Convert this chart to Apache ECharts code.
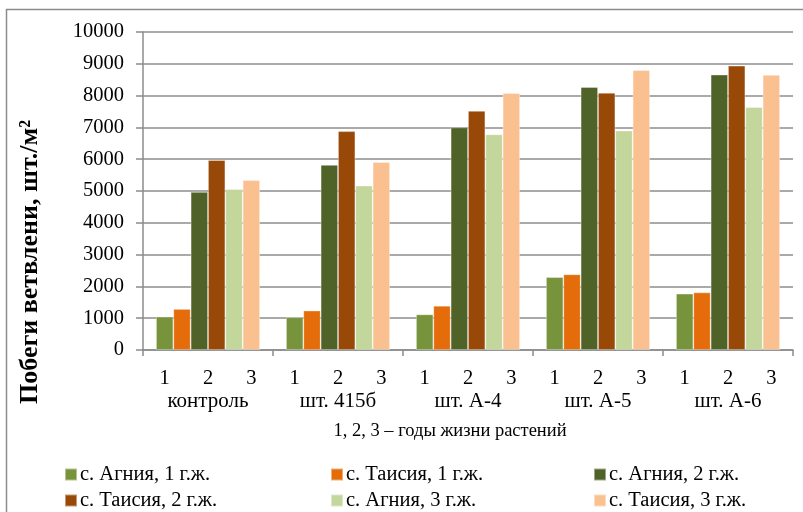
<!DOCTYPE html>
<html>
<head>
<meta charset="utf-8">
<script src="https://cdn.jsdelivr.net/npm/echarts@6/dist/echarts.min.js"></script>
<style>html,body{margin:0;padding:0;background:#fff}#c{width:803px;height:512px}</style>
</head>
<body>
<div id="c"></div>
<script>
var categories = ['контроль', 'шт. 415б', 'шт. А-4', 'шт. А-5', 'шт. А-6'];
var subLabels = ['1', '2', '3'];
var yTicks = { min: 0, max: 10000, interval: 1000 };
var seriesNames = ['с. Агния, 1 г.ж.', 'с. Таисия, 1 г.ж.', 'с. Агния, 2 г.ж.', 'с. Таисия, 2 г.ж.', 'с. Агния, 3 г.ж.', 'с. Таисия, 3 г.ж.'];
var agnia1 = [1050, 1030, 1120, 2290, 1770];
var taisia1 = [1290, 1240, 1390, 2380, 1810];
var agnia2 = [4970, 5820, 7000, 8270, 8660];
var taisia2 = [5970, 6880, 7520, 8090, 8940];
var agnia3 = [5060, 5170, 6780, 6900, 7640];
var taisia3 = [5340, 5910, 8080, 8800, 8650];
var colors = ['#77933C', '#E46C0A', '#4F6228', '#984807', '#C3D69B', '#FAC090'];
var yName = 'Побеги ветвлени, шт./м²';
var xNote = '1, 2, 3 – годы жизни растений';

var values = [agnia1, taisia1, agnia2, taisia2, agnia3, taisia3];
var subCats = [];
categories.forEach(function () { subLabels.forEach(function (s) { subCats.push(s); }); });

var FONT = 'Liberation Serif';
var chart = echarts.init(document.getElementById('c'), null, { renderer: 'canvas' });

function legendCol(names, left) {
  return {
    orient: 'vertical', left: left, top: 464, padding: 0, height: 60,
    data: names, itemWidth: 12, itemHeight: 12, itemGap: 5,
    icon: 'rect',
    textStyle: { fontFamily: FONT, fontSize: 20.5, color: '#000', lineHeight: 20, padding: [0, 0, 0, -2] }
  };
}

chart.setOption({
  animation: false,
  color: colors,
  title: {
    text: xNote, left: 450, top: 422, textAlign: 'center', padding: 0,
    textStyle: { fontFamily: FONT, fontSize: 18.5, fontWeight: 'normal', color: '#000' }
  },
  graphic: [
    { type: 'rect', shape: { x: 6.5, y: 9.5, width: 900, height: 600 }, style: { fill: 'none', stroke: '#8c8c8c', lineWidth: 1.5 }, silent: true },
    { type: 'text', x: 30, y: 262, rotation: Math.PI / 2,
      style: { text: yName, fontFamily: FONT, fontSize: 26, fontWeight: 'bold', fill: '#000', align: 'center', verticalAlign: 'middle' } }
  ],
  legend: [
    legendCol([seriesNames[0], seriesNames[3]], 64),
    legendCol([seriesNames[1], seriesNames[4]], 330),
    legendCol([seriesNames[2], seriesNames[5]], 593)
  ],
  grid: { left: 143, right: 10, top: 32, bottom: 162, containLabel: false },
  xAxis: [
    {
      type: 'category', data: categories, position: 'bottom',
      axisLine: { lineStyle: { color: '#8c8c8c', width: 1.5 } },
      axisTick: { show: true, length: 6, lineStyle: { color: '#8c8c8c', width: 1.5 } },
      axisLabel: { margin: 41, fontFamily: FONT, fontSize: 21, color: '#000' }
    },
    {
      type: 'category', data: subCats, position: 'bottom',
      axisLine: { show: false }, axisTick: { show: false },
      axisLabel: { margin: 18, interval: 0, fontFamily: FONT, fontSize: 20.5, color: '#000' }
    }
  ],
  yAxis: {
    type: 'value', min: yTicks.min, max: yTicks.max, interval: yTicks.interval,
    axisLine: { show: true, lineStyle: { color: '#8c8c8c', width: 1.5 } },
    axisTick: { show: true, length: 7, lineStyle: { color: '#8c8c8c', width: 1.5 } },
    splitLine: { lineStyle: { color: '#8c8c8c', width: 1.5 } },
    axisLabel: { margin: 19, fontFamily: FONT, fontSize: 20.5, color: '#000', formatter: function (v) { return String(v); } }
  },
  series: values.map(function (v, i) {
    return {
      name: seriesNames[i], type: 'bar', xAxisIndex: 0, data: v,
      barGap: '0%', barCategoryGap: '20%',
      itemStyle: { color: colors[i], borderColor: 'rgba(255,255,255,0.45)', borderWidth: 0.8 }
    };
  })
});
</script>
</body>
</html>
